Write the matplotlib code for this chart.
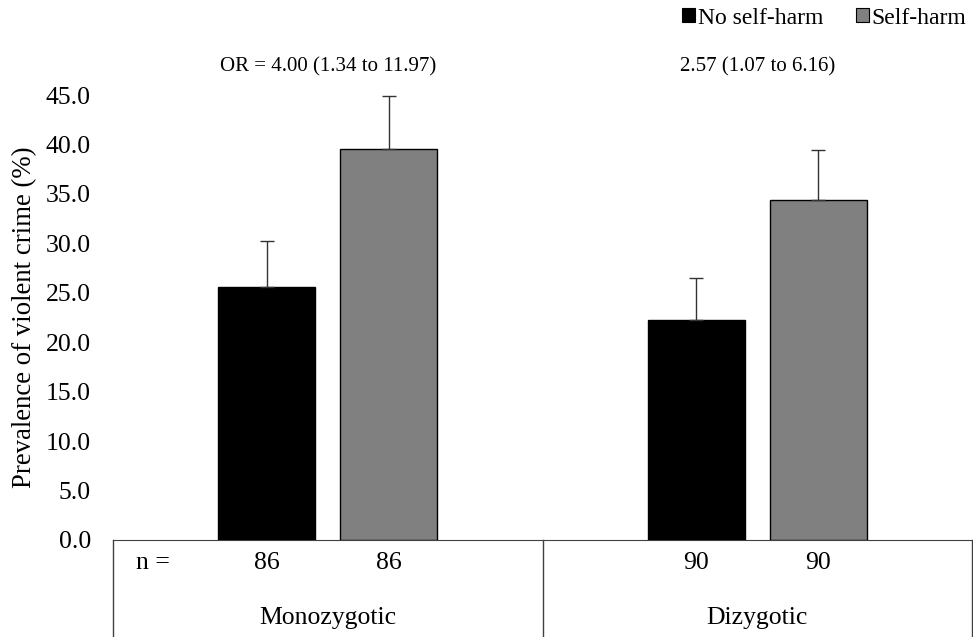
import numpy as np
import matplotlib
matplotlib.use('Agg')
import matplotlib.pyplot as plt
from matplotlib.patches import Patch

plt.rcParams['font.family'] = ['Liberation Serif', 'DejaVu Serif']

# data
groups = ['Monozygotic', 'Dizygotic']
series = ['No self-harm', 'Self-harm']
prev_no = [25.6, 22.2]
prev_yes = [39.5, 34.4]
err_no = [4.6, 4.3]
err_yes = [5.4, 5.0]
n_no = [86, 90]
n_yes = [86, 90]
or_text = ['OR = 4.00 (1.34 to 11.97)', '2.57 (1.07 to 6.16)']

colors = ['#000000', '#808080']
W, H = 973, 637
fig = plt.figure(figsize=(W / 100, H / 100), dpi=100)
ax = fig.add_axes([113 / W, (H - 540) / H, 859 / W, 445 / H])

x = np.arange(len(groups))
off = 0.1424
bw = 0.2256
ek = dict(ecolor='#333333', elinewidth=1, capsize=5, capthick=1)
ax.bar(x - off, prev_no, bw, color=colors[0], edgecolor='black', lw=1,
       yerr=[np.zeros(2), err_no], error_kw=ek, zorder=3)
ax.bar(x + off, prev_yes, bw, color=colors[1], edgecolor='black', lw=1,
       yerr=[np.zeros(2), err_yes], error_kw=ek, zorder=3)

ax.set_xlim(-0.5, 1.5)
ax.set_ylim(0, 45)
ax.set_yticks(np.arange(0, 45.1, 5))
ax.set_yticklabels(['%.1f' % v for v in np.arange(0, 45.1, 5)])
ax.tick_params(axis='y', length=0, pad=16, labelsize=18.5)
ax.set_xticks([])
for s in ['top', 'right', 'left']:
    ax.spines[s].set_visible(False)
ax.spines['bottom'].set_color('#404040')
ax.set_ylabel('Prevalence of violent crime (%)', fontsize=19.3)
ax.yaxis.set_label_coords(-0.088, 0.5)

# OR annotations
for i, t in enumerate(or_text):
    ax.text(x[i], 47.8, t, ha='center', va='center', fontsize=15, clip_on=False)

# table under the axis
tr = ax.get_xaxis_transform()
for xv in [-0.5, 0.5, 1.5]:
    ax.plot([xv, xv], [0, -0.22], transform=tr, color='#404040', lw=1, clip_on=False)
ax.text(-0.408, -0.052, 'n =', transform=tr, ha='center', va='center', fontsize=18.5)
for i in range(len(groups)):
    ax.text(x[i] - off, -0.052, str(n_no[i]), transform=tr, ha='center', va='center', fontsize=18.5)
    ax.text(x[i] + off, -0.052, str(n_yes[i]), transform=tr, ha='center', va='center', fontsize=18.5)
    ax.text(x[i], -0.175, groups[i], transform=tr, ha='center', va='center', fontsize=18.5)

handles = [Patch(facecolor=c, edgecolor='black', lw=0.8) for c in colors]
fig.legend(handles, series, loc='center right', bbox_to_anchor=(0.998, 1 - 18 / H),
           ncol=2, frameon=False, fontsize=17, handlelength=0.55, handleheight=0.55,
           handletextpad=0.1, columnspacing=1.4, borderaxespad=0, borderpad=0.2)

fig.savefig('out.png', dpi=100)
